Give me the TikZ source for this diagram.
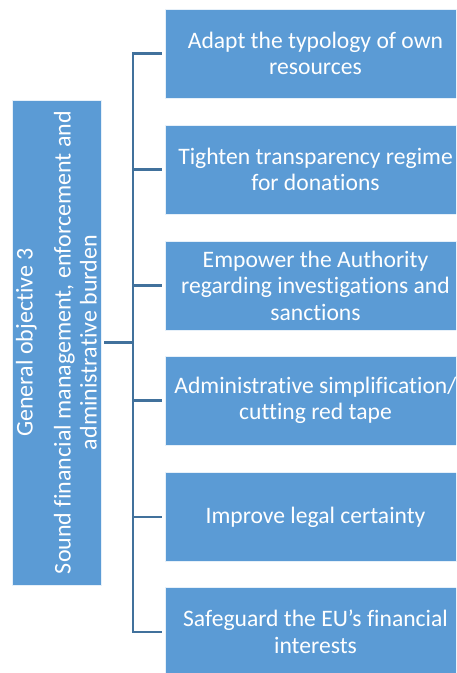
\documentclass[tikz,border=0pt]{standalone}
\usepackage{fontspec}
\setmainfont[Ligatures={ResetAll,NoCommon}]{Carlito}
\definecolor{boxblue}{HTML}{5B9BD5}
\definecolor{linkblue}{HTML}{41719C}
\tikzset{
  x=1pt, y=-1pt,
  goalbox/.style={rectangle, fill=boxblue, draw=white!85!boxblue, line width=0.8pt,
    minimum width=301pt, minimum height=89pt, inner sep=0pt, align=center,
    text=white, font=\fontsize{23.6}{26.5}\selectfont},
  mainbox/.style={rectangle, fill=boxblue, draw=white!85!boxblue, line width=0.8pt,
    minimum width=485pt, minimum height=89pt, inner sep=0pt, align=center,
    text=white, rotate=90, font=\fontsize{24}{26}\selectfont},
  conn/.style={draw=linkblue, line width=2.4pt}
}
\begin{document}
\begin{tikzpicture}
\useasboundingbox (0,0) rectangle (456,673);
\clip (0,0) rectangle (456,673);
\node[mainbox] (L) at (56.5,342.5) {General objective 3\\[12pt]Sound financial management, enforcement and\\administrative burden};
\node[goalbox] (b1) at (315.5,53.5) {Adapt the typology of own\\resources};
\node[goalbox] (b2) at (315.5,169.5) {Tighten transparency regime\\for donations};
\node[goalbox] (b3) at (315.5,285.5) {Empower the Authority\\regarding investigations and\\sanctions};
\node[goalbox] (b4) at (315.5,400.5) {Administrative simplification/\\cutting red tape};
\node[goalbox] (b5) at (315.5,517) {Improve legal certainty};
\node[goalbox] (b6) at (315.5,632) {Safeguard the EU's financial\\interests};
\coordinate (bt) at (133,53.5);
\coordinate (bb) at (133,632);
\draw[conn, line cap=rect] (bt) -- (bb);
\draw[conn] ([xshift=3pt]L.south) -- (bt|-L.south);
\foreach \b in {b1,b2,b3,b4,b5,b6}{
  \draw[conn] (bt|-\b.west) -- ([xshift=-3pt]\b.west);
}
\end{tikzpicture}
\end{document}
